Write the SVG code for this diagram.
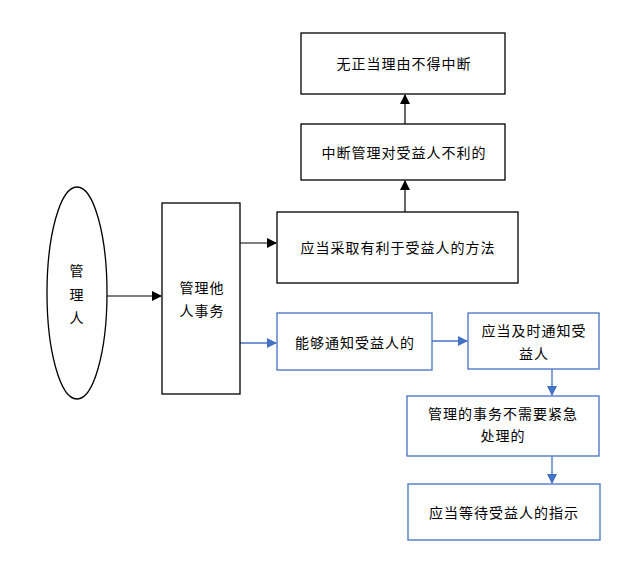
<svg xmlns="http://www.w3.org/2000/svg" width="620" height="571" viewBox="0 0 620 571">
<defs>
<style>
.k{fill:#fff;stroke:#000;stroke-width:1.3}
.b{fill:#fff;stroke:#4472C4;stroke-width:1.3}
.t{font-family:"Noto Sans CJK SC","Noto Sans CJK JP",sans-serif;font-size:14px;fill:#000;text-anchor:middle;dominant-baseline:central;letter-spacing:1px}
.lk{stroke:#000;stroke-width:1.2;fill:none}
.lb{stroke:#4472C4;stroke-width:1.3;fill:none}
</style>
<marker id="ak" markerWidth="10" markerHeight="10" refX="9" refY="5" orient="auto" markerUnits="userSpaceOnUse"><path d="M0,0 L10,5 L0,10 Z" fill="#000"/></marker>
<marker id="ab" markerWidth="10" markerHeight="10" refX="9" refY="5" orient="auto" markerUnits="userSpaceOnUse"><path d="M0,0 L10,5 L0,10 Z" fill="#4472C4"/></marker>
</defs>
<rect width="620" height="571" fill="#fff"/>
<g id="connectors">
<line class="lk" x1="107" y1="296" x2="161" y2="296" marker-end="url(#ak)"/>
<line class="lk" x1="240" y1="243" x2="276" y2="243" marker-end="url(#ak)"/>
<line class="lb" x1="240" y1="343" x2="276" y2="343" marker-end="url(#ab)"/>
<line class="lb" x1="432" y1="341" x2="467" y2="341" marker-end="url(#ab)"/>
<line class="lk" x1="405" y1="212" x2="405" y2="181" marker-end="url(#ak)"/>
<line class="lk" x1="405" y1="124" x2="405" y2="95" marker-end="url(#ak)"/>
<line class="lb" x1="552" y1="369" x2="552" y2="395" marker-end="url(#ab)"/>
<line class="lb" x1="552" y1="456" x2="552" y2="483" marker-end="url(#ab)"/>
</g>
<g id="n-manager">
<ellipse class="k" cx="77" cy="293" rx="30" ry="106"/>
<text class="t" x="77" y="270">管</text>
<text class="t" x="77" y="294">理</text>
<text class="t" x="77" y="317">人</text>
</g>
<g id="n-manage">
<rect class="k" x="162" y="203" width="78" height="191"/>
<text class="t" x="202" y="287">管理他</text>
<text class="t" x="202" y="310">人事务</text>
</g>
<g id="n-adopt">
<rect class="k" x="277" y="212" width="241" height="71"/>
<text class="t" x="398" y="247">应当采取有利于受益人的方法</text>
</g>
<g id="n-interrupt">
<rect class="k" x="301" y="124" width="204" height="56"/>
<text class="t" x="404" y="152">中断管理对受益人不利的</text>
</g>
<g id="n-noreason">
<rect class="k" x="301" y="33" width="204" height="61"/>
<text class="t" x="404" y="63">无正当理由不得中断</text>
</g>
<g id="n-notify">
<rect class="b" x="277" y="313" width="155" height="57"/>
<text class="t" x="355" y="342">能够通知受益人的</text>
</g>
<g id="n-timely">
<rect class="b" x="468" y="313" width="131" height="56"/>
<text class="t" x="534" y="330">应当及时通知受</text>
<text class="t" x="534" y="353">益人</text>
</g>
<g id="n-noturgent">
<rect class="b" x="407" y="396" width="192" height="60"/>
<text class="t" x="503" y="413">管理的事务不需要紧急</text>
<text class="t" x="503" y="435">处理的</text>
</g>
<g id="n-wait">
<rect class="b" x="408" y="484" width="192" height="56"/>
<text class="t" x="504" y="512">应当等待受益人的指示</text>
</g>
</svg>
